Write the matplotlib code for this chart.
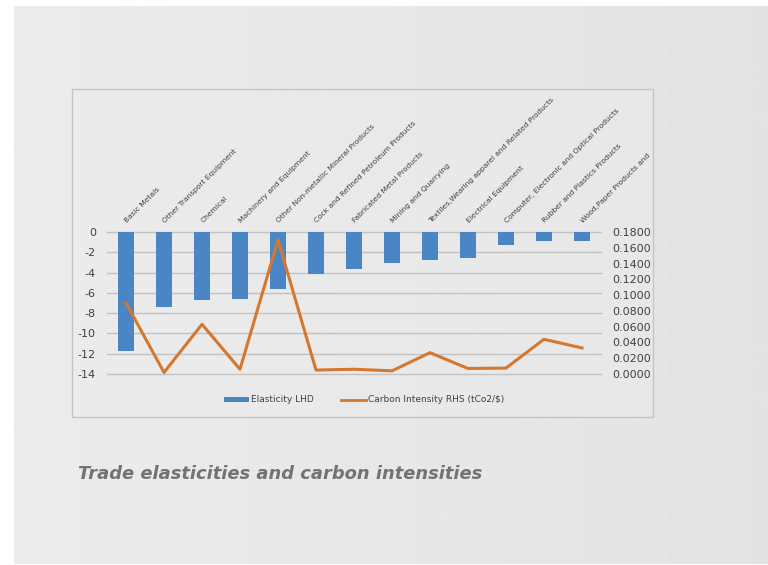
import matplotlib
matplotlib.use("Agg")
import matplotlib.pyplot as plt
from matplotlib.patches import Rectangle
from matplotlib.lines import Line2D
from matplotlib.patches import Patch
import numpy as np

categories = ["Basic Metals", "Other Transport Equipment", "Chemical",
              "Machinery and Equipment", "Other Non-metallic Mineral Products",
              "Cock and Refined Petroleum Products", "Fabricated Metal Products",
              "Mining and Quarrying", "Textiles,Wearing apparel and Related Products",
              "Electrical Equipment", "Computer, Electronic and Optical Products",
              "Rubber and Plastics Products", "Wood,Paper Products and"]
elasticity = [-11.7, -7.4, -6.7, -6.6, -5.6, -4.1, -3.6, -3.1, -2.75, -2.6, -1.25, -0.9, -0.9]
carbon = [0.090, 0.002, 0.063, 0.006, 0.170, 0.005, 0.006, 0.004, 0.027, 0.007, 0.0075, 0.044, 0.033]
left_ticks = [0, -2, -4, -6, -8, -10, -12, -14]
right_ticks = [0.0, 0.02, 0.04, 0.06, 0.08, 0.10, 0.12, 0.14, 0.16, 0.18]

W, H = 768, 565
fig = plt.figure(figsize=(W / 100, H / 100), dpi=100)
fig.patch.set_facecolor("white")

def fx(px):
    return px / W

def fy(py):
    return 1 - py / H

# background axes in pixel coordinates
bg = fig.add_axes([0, 0, 1, 1], zorder=-10)
bg.set_xlim(0, W)
bg.set_ylim(H, 0)
bg.axis("off")
grad = np.linspace(0.925, 0.89, 256)[None, :].repeat(2, axis=0)
bg.imshow(grad, cmap="gray", vmin=0, vmax=1, extent=(14, W, 564, 6),
          aspect="auto", interpolation="bilinear")
bg.add_patch(Rectangle((72, 89), 653 - 72, 417 - 89, facecolor="#ececec",
                       alpha=0.45, edgecolor="none"))
bg.add_patch(Rectangle((72, 89), 653 - 72, 417 - 89, facecolor="none",
                       edgecolor="#c4c4c4", linewidth=1.0))
bg.set_xlim(0, W)
bg.set_ylim(H, 0)

ax = fig.add_axes([fx(107), fy(374), fx(601) - fx(107), fy(232) - fy(374)], zorder=1)
ax.set_facecolor("none")
x = np.arange(len(categories))
bar_color = "#4a86c6"
line_color = "#d4772f"
ax.bar(x, elasticity, width=0.4, color=bar_color, zorder=2)
ax.set_xlim(-0.5, len(categories) - 0.5)
ax.set_ylim(-14, 0)
ax.set_yticks(left_ticks)
ax.set_yticklabels([str(t) for t in left_ticks])
ax.tick_params(axis="y", length=0, pad=8, labelsize=8, labelcolor="#404040")
ax.set_xticks([])
for s in ax.spines.values():
    s.set_visible(False)
for t in left_ticks:
    ax.axhline(t, color="#c2c2c2", linewidth=1.0, zorder=1, clip_on=False)

ax2 = ax.twinx()
ax2.set_zorder(2)
ax2.set_facecolor("none")
ax2.plot(x, carbon, color=line_color, linewidth=2.2, zorder=3, clip_on=False)
ax2.set_ylim(0, 0.18)
ax2.set_yticks(right_ticks)
ax2.set_yticklabels([f"{t:.4f}" for t in right_ticks])
ax2.tick_params(axis="y", length=0, pad=8, labelsize=8, labelcolor="#404040")
for s in ax2.spines.values():
    s.set_visible(False)

# rotated category labels above the plot
for i, c in enumerate(categories):
    ax.annotate(c, xy=(i + 0.05, 0), xytext=(0, 6), textcoords="offset points",
                rotation=45, rotation_mode="anchor", ha="left", va="bottom",
                fontsize=5.4, color="#404040", annotation_clip=False)

handles = [Patch(facecolor=bar_color, edgecolor="none"),
           Line2D([0], [0], color=line_color, linewidth=2.0)]
fig.legend(handles, ["Elasticity LHD", "Carbon Intensity RHS (tCo2/$)"],
           loc="center", bbox_to_anchor=(fx(364), fy(400)), ncol=2,
           frameon=False, fontsize=6.5, handlelength=2.8, handleheight=0.5,
           columnspacing=3.0, handletextpad=0.2, labelcolor="#404040")

fig.text(fx(78), fy(474), "Trade elasticities and carbon intensities",
         ha="left", va="center", fontsize=12.9, fontstyle="italic",
         fontweight="bold", color="#737373",
         family=["DejaVu Sans"])

fig.savefig("out.png", dpi=100, facecolor=fig.get_facecolor())
